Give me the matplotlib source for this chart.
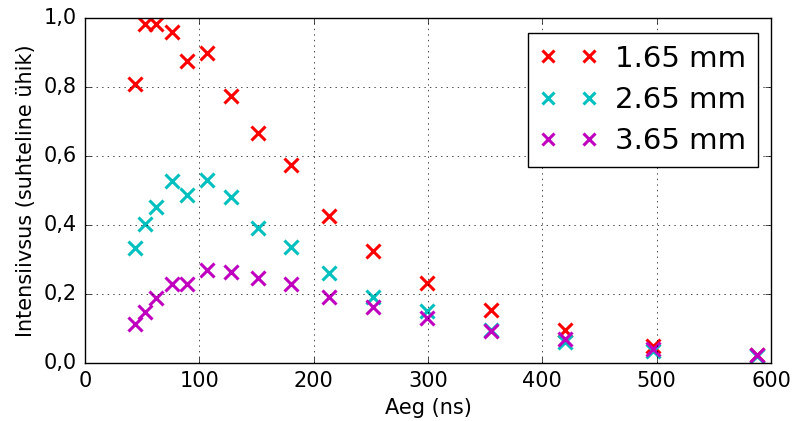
import matplotlib
matplotlib.use('Agg')
import matplotlib.pyplot as plt
from matplotlib.ticker import FuncFormatter

# andmed (loetud pildilt)
aeg = [44, 52.5, 62, 76, 89, 106.5, 127.5, 151, 180, 213, 252, 299.5, 355, 420, 496.5, 588]
i_165 = [0.81, 0.983, 0.983, 0.96, 0.876, 0.898, 0.774, 0.666, 0.575, 0.426, 0.326, 0.231, 0.154, 0.096, 0.048, 0.022]
i_265 = [0.332, 0.402, 0.451, 0.527, 0.488, 0.530, 0.482, 0.392, 0.337, 0.26, 0.19, 0.152, 0.095, 0.062, 0.036, 0.02]
i_365 = [0.113, 0.149, 0.189, 0.229, 0.229, 0.27, 0.265, 0.245, 0.228, 0.192, 0.163, 0.130, 0.093, 0.071, 0.042, 0.024]
sildid = ['1.65 mm', '2.65 mm', '3.65 mm']

plt.style.use('classic')

fig = plt.figure(figsize=(7.96, 4.21), dpi=100, facecolor='white')
ax = fig.add_axes([85 / 796, 1 - 363 / 421, 686 / 796, 345 / 421])

for y, c, s in zip([i_165, i_265, i_365], ['r', 'c', 'm'], sildid):
    ax.plot(aeg, y, 'x', color=c, markersize=10, markeredgewidth=2.2, label=s)

ax.set_xlim(0, 600)
ax.set_ylim(0, 1.0)
ax.set_yticks([0, 0.2, 0.4, 0.6, 0.8, 1.0])
ax.yaxis.set_major_formatter(FuncFormatter(lambda v, p: f'{v:.1f}'.replace('.', ',')))
ax.tick_params(labelsize=15, pad=6)
ax.grid(True)

ax.set_xlabel('Aeg (ns)', fontsize=15)
ax.set_ylabel('Intensiivsus (suhteline ühik)', fontsize=15)

leg = ax.legend(loc='upper right', bbox_to_anchor=(758 / 796, 1 - 33 / 421),
                bbox_transform=fig.transFigure, borderaxespad=0, numpoints=2,
                fontsize=21, handletextpad=0.6, labelspacing=0.45, markerscale=0.85)

fig.savefig('out.png', dpi=100, facecolor='white')
